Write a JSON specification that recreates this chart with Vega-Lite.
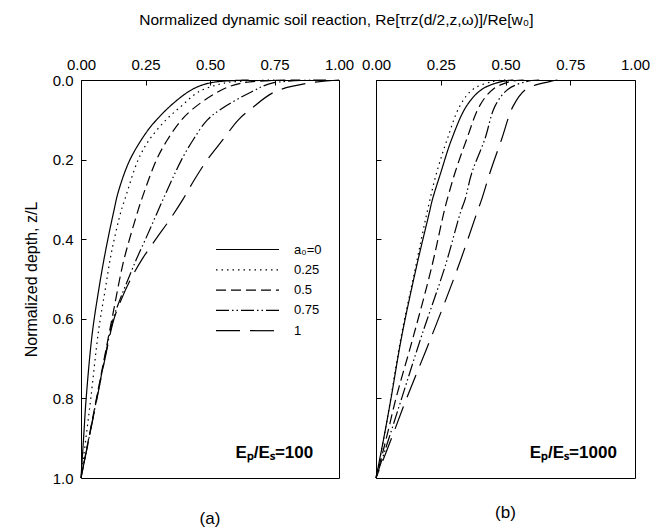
{
  "$schema": "https://vega.github.io/schema/vega-lite/v6.json",
  "background": "white",
  "padding": {"left": 22, "top": 13, "right": 5, "bottom": 2},
  "title": {"text": "Normalized dynamic soil reaction, Re[τrz(d/2,z,ω)]/Re[w₀]", "fontSize": 15.5, "font": "Liberation Sans", "fontWeight": "normal", "anchor": "middle", "offset": 28, "color": "black"},
  "config": {
    "font": "Liberation Sans",
    "view": {"stroke": "black", "strokeWidth": 1},
    "axis": {"domain": false, "grid": false, "tickSize": -5, "tickColor": "black", "tickWidth": 1, "labelColor": "black", "labelFontSize": 15, "labelFont": "Liberation Sans", "labelPadding": 13, "labelFlush": false, "labelOverlap": false, "titleFontSize": 16, "titleFont": "Liberation Sans", "titleFontWeight": "normal", "titleColor": "black", "titlePadding": 13}
  },
  "spacing": 37,
  "bounds": "flush",
  "datasets": {
    "a": [
      {"a0": "a₀=0", "z": 0, "v": 0.65}, {"a0": "a₀=0", "z": 0.005, "v": 0.52}, {"a0": "a₀=0", "z": 0.015, "v": 0.46}, {"a0": "a₀=0", "z": 0.03, "v": 0.415}, {"a0": "a₀=0", "z": 0.063, "v": 0.35}, {"a0": "a₀=0", "z": 0.1, "v": 0.293}, {"a0": "a₀=0", "z": 0.13, "v": 0.255}, {"a0": "a₀=0", "z": 0.2, "v": 0.19}, {"a0": "a₀=0", "z": 0.28, "v": 0.145}, {"a0": "a₀=0", "z": 0.33, "v": 0.127}, {"a0": "a₀=0", "z": 0.43, "v": 0.095}, {"a0": "a₀=0", "z": 0.53, "v": 0.068}, {"a0": "a₀=0", "z": 0.64, "v": 0.043}, {"a0": "a₀=0", "z": 0.8, "v": 0.02}, {"a0": "a₀=0", "z": 0.9, "v": 0.01}, {"a0": "a₀=0", "z": 1, "v": 0},
      {"a0": "0.25", "z": 0, "v": 0.75}, {"a0": "0.25", "z": 0.005, "v": 0.58}, {"a0": "0.25", "z": 0.01, "v": 0.54}, {"a0": "0.25", "z": 0.03, "v": 0.455}, {"a0": "0.25", "z": 0.065, "v": 0.39}, {"a0": "0.25", "z": 0.1, "v": 0.33}, {"a0": "0.25", "z": 0.15, "v": 0.265}, {"a0": "0.25", "z": 0.2, "v": 0.222}, {"a0": "0.25", "z": 0.3, "v": 0.17}, {"a0": "0.25", "z": 0.33, "v": 0.155}, {"a0": "0.25", "z": 0.43, "v": 0.119}, {"a0": "0.25", "z": 0.53, "v": 0.093}, {"a0": "0.25", "z": 0.63, "v": 0.068}, {"a0": "0.25", "z": 0.8, "v": 0.038}, {"a0": "0.25", "z": 0.9, "v": 0.019}, {"a0": "0.25", "z": 1, "v": 0},
      {"a0": "0.5", "z": 0, "v": 0.85}, {"a0": "0.5", "z": 0.008, "v": 0.62}, {"a0": "0.5", "z": 0.03, "v": 0.53}, {"a0": "0.5", "z": 0.072, "v": 0.435}, {"a0": "0.5", "z": 0.1, "v": 0.39}, {"a0": "0.5", "z": 0.15, "v": 0.335}, {"a0": "0.5", "z": 0.2, "v": 0.293}, {"a0": "0.5", "z": 0.3, "v": 0.235}, {"a0": "0.5", "z": 0.33, "v": 0.22}, {"a0": "0.5", "z": 0.4, "v": 0.188}, {"a0": "0.5", "z": 0.45, "v": 0.167}, {"a0": "0.5", "z": 0.5, "v": 0.15}, {"a0": "0.5", "z": 0.55, "v": 0.135}, {"a0": "0.5", "z": 0.6, "v": 0.12}, {"a0": "0.5", "z": 0.7, "v": 0.09}, {"a0": "0.5", "z": 0.8, "v": 0.06}, {"a0": "0.5", "z": 0.9, "v": 0.03}, {"a0": "0.5", "z": 1, "v": 0},
      {"a0": "0.75", "z": 0, "v": 0.95}, {"a0": "0.75", "z": 0.008, "v": 0.74}, {"a0": "0.75", "z": 0.03, "v": 0.66}, {"a0": "0.75", "z": 0.072, "v": 0.545}, {"a0": "0.75", "z": 0.1, "v": 0.49}, {"a0": "0.75", "z": 0.15, "v": 0.435}, {"a0": "0.75", "z": 0.2, "v": 0.39}, {"a0": "0.75", "z": 0.25, "v": 0.353}, {"a0": "0.75", "z": 0.3, "v": 0.318}, {"a0": "0.75", "z": 0.35, "v": 0.284}, {"a0": "0.75", "z": 0.4, "v": 0.25}, {"a0": "0.75", "z": 0.45, "v": 0.215}, {"a0": "0.75", "z": 0.5, "v": 0.183}, {"a0": "0.75", "z": 0.55, "v": 0.152}, {"a0": "0.75", "z": 0.6, "v": 0.125}, {"a0": "0.75", "z": 0.7, "v": 0.092}, {"a0": "0.75", "z": 0.8, "v": 0.061}, {"a0": "0.75", "z": 0.9, "v": 0.031}, {"a0": "0.75", "z": 1, "v": 0},
      {"a0": "1", "z": 0, "v": 1.0}, {"a0": "1", "z": 0.008, "v": 0.88}, {"a0": "1", "z": 0.03, "v": 0.75}, {"a0": "1", "z": 0.072, "v": 0.66}, {"a0": "1", "z": 0.1, "v": 0.61}, {"a0": "1", "z": 0.15, "v": 0.55}, {"a0": "1", "z": 0.2, "v": 0.49}, {"a0": "1", "z": 0.25, "v": 0.44}, {"a0": "1", "z": 0.3, "v": 0.395}, {"a0": "1", "z": 0.35, "v": 0.345}, {"a0": "1", "z": 0.4, "v": 0.29}, {"a0": "1", "z": 0.45, "v": 0.237}, {"a0": "1", "z": 0.5, "v": 0.193}, {"a0": "1", "z": 0.55, "v": 0.157}, {"a0": "1", "z": 0.6, "v": 0.128}, {"a0": "1", "z": 0.7, "v": 0.093}, {"a0": "1", "z": 0.8, "v": 0.062}, {"a0": "1", "z": 0.9, "v": 0.031}, {"a0": "1", "z": 1, "v": 0}
    ],
    "b": [
      {"a0": "a₀=0", "z": 0, "v": 0.53}, {"a0": "a₀=0", "z": 0.004, "v": 0.485}, {"a0": "a₀=0", "z": 0.023, "v": 0.41}, {"a0": "a₀=0", "z": 0.065, "v": 0.35}, {"a0": "a₀=0", "z": 0.149, "v": 0.292}, {"a0": "a₀=0", "z": 0.233, "v": 0.25}, {"a0": "a₀=0", "z": 0.3, "v": 0.218}, {"a0": "a₀=0", "z": 0.333, "v": 0.206}, {"a0": "a₀=0", "z": 0.47, "v": 0.156}, {"a0": "a₀=0", "z": 0.645, "v": 0.099}, {"a0": "a₀=0", "z": 0.8, "v": 0.058}, {"a0": "a₀=0", "z": 0.9, "v": 0.03}, {"a0": "a₀=0", "z": 1, "v": 0},
      {"a0": "0.25", "z": 0, "v": 0.5}, {"a0": "0.25", "z": 0.004, "v": 0.45}, {"a0": "0.25", "z": 0.023, "v": 0.375}, {"a0": "0.25", "z": 0.065, "v": 0.324}, {"a0": "0.25", "z": 0.149, "v": 0.275}, {"a0": "0.25", "z": 0.233, "v": 0.234}, {"a0": "0.25", "z": 0.333, "v": 0.197}, {"a0": "0.25", "z": 0.47, "v": 0.153}, {"a0": "0.25", "z": 0.645, "v": 0.097}, {"a0": "0.25", "z": 0.8, "v": 0.057}, {"a0": "0.25", "z": 0.9, "v": 0.03}, {"a0": "0.25", "z": 1, "v": 0},
      {"a0": "0.5", "z": 0, "v": 0.57}, {"a0": "0.5", "z": 0.004, "v": 0.517}, {"a0": "0.5", "z": 0.023, "v": 0.452}, {"a0": "0.5", "z": 0.065, "v": 0.4}, {"a0": "0.5", "z": 0.149, "v": 0.35}, {"a0": "0.5", "z": 0.233, "v": 0.305}, {"a0": "0.5", "z": 0.3, "v": 0.275}, {"a0": "0.5", "z": 0.333, "v": 0.262}, {"a0": "0.5", "z": 0.47, "v": 0.215}, {"a0": "0.5", "z": 0.645, "v": 0.144}, {"a0": "0.5", "z": 0.8, "v": 0.077}, {"a0": "0.5", "z": 0.9, "v": 0.04}, {"a0": "0.5", "z": 1, "v": 0},
      {"a0": "0.75", "z": 0, "v": 0.63}, {"a0": "0.75", "z": 0.004, "v": 0.58}, {"a0": "0.75", "z": 0.023, "v": 0.51}, {"a0": "0.75", "z": 0.065, "v": 0.46}, {"a0": "0.75", "z": 0.149, "v": 0.42}, {"a0": "0.75", "z": 0.233, "v": 0.37}, {"a0": "0.75", "z": 0.3, "v": 0.344}, {"a0": "0.75", "z": 0.333, "v": 0.326}, {"a0": "0.75", "z": 0.47, "v": 0.266}, {"a0": "0.75", "z": 0.645, "v": 0.175}, {"a0": "0.75", "z": 0.8, "v": 0.099}, {"a0": "0.75", "z": 0.9, "v": 0.05}, {"a0": "0.75", "z": 1, "v": 0},
      {"a0": "1", "z": 0, "v": 0.7}, {"a0": "1", "z": 0.004, "v": 0.67}, {"a0": "1", "z": 0.023, "v": 0.58}, {"a0": "1", "z": 0.065, "v": 0.53}, {"a0": "1", "z": 0.149, "v": 0.485}, {"a0": "1", "z": 0.233, "v": 0.44}, {"a0": "1", "z": 0.3, "v": 0.408}, {"a0": "1", "z": 0.333, "v": 0.39}, {"a0": "1", "z": 0.47, "v": 0.317}, {"a0": "1", "z": 0.645, "v": 0.214}, {"a0": "1", "z": 0.8, "v": 0.118}, {"a0": "1", "z": 0.9, "v": 0.06}, {"a0": "1", "z": 1, "v": 0}
    ]
  },
  "hconcat": [
    {
      "width": 258, "height": 398,
      "title": {"text": "(a)", "orient": "bottom", "fontSize": 17, "fontWeight": "normal", "offset": 25, "color": "black"},
      "layer": [
        {
          "data": {"name": "a"},
          "mark": {"type": "line", "strokeWidth": 1.2, "color": "black", "interpolate": "catmull-rom"},
          "encoding": {
            "x": {"field": "v", "type": "quantitative", "scale": {"domain": [0, 1]}, "axis": {"orient": "top", "values": [0, 0.25, 0.5, 0.75, 1], "format": ".2f", "title": null}},
            "y": {"field": "z", "type": "quantitative", "scale": {"domain": [0, 1], "reverse": true}, "axis": {"values": [0, 0.2, 0.4, 0.6, 0.8, 1], "format": ".1f", "title": "Normalized depth,  z/L"}},
            "strokeDash": {"field": "a0", "type": "nominal", "scale": {"domain": ["a₀=0", "0.25", "0.5", "0.75", "1"], "range": [[1, 0], [1.5, 4], [10, 5], [13, 3, 1.5, 3, 1.5, 3], [24, 10]]},
              "legend": {"orient": "none", "legendX": 158, "legendY": 161, "title": null, "padding": 0, "symbolType": "M-4,0H4", "symbolSize": 248, "symbolStrokeWidth": 1.2, "symbolStrokeColor": "black", "symbolFillColor": "transparent", "labelFontSize": 13, "labelColor": "black", "labelOffset": 38, "rowPadding": 4.3}},
            "order": {"field": "z"}
          }
        },
        {
          "data": {"values": [{}]},
          "mark": {"type": "text", "align": "right", "baseline": "alphabetic", "fontWeight": "bold", "fontSize": 17, "color": "black"},
          "encoding": {"x": {"datum": 0.9, "type": "quantitative"}, "y": {"datum": 0.95, "type": "quantitative"}, "text": {"value": "Eₚ/Eₛ=100"}}
        }
      ]
    },
    {
      "width": 259, "height": 398,
      "title": {"text": "(b)", "orient": "bottom", "fontSize": 17, "fontWeight": "normal", "offset": 25, "color": "black"},
      "layer": [
        {
          "data": {"name": "b"},
          "mark": {"type": "line", "strokeWidth": 1.2, "color": "black", "interpolate": "catmull-rom"},
          "encoding": {
            "x": {"field": "v", "type": "quantitative", "scale": {"domain": [0, 1]}, "axis": {"orient": "top", "values": [0, 0.25, 0.5, 0.75, 1], "format": ".2f", "title": null}},
            "y": {"field": "z", "type": "quantitative", "scale": {"domain": [0, 1], "reverse": true}, "axis": {"values": [0, 0.2, 0.4, 0.6, 0.8, 1], "labels": false, "title": null}},
            "strokeDash": {"field": "a0", "type": "nominal", "scale": {"domain": ["a₀=0", "0.25", "0.5", "0.75", "1"], "range": [[1, 0], [1.5, 4], [10, 5], [13, 3, 1.5, 3, 1.5, 3], [24, 10]]}, "legend": null},
            "order": {"field": "z"}
          }
        },
        {
          "data": {"values": [{}]},
          "mark": {"type": "text", "align": "right", "baseline": "alphabetic", "fontWeight": "bold", "fontSize": 17, "color": "black"},
          "encoding": {"x": {"datum": 0.93, "type": "quantitative"}, "y": {"datum": 0.95, "type": "quantitative"}, "text": {"value": "Eₚ/Eₛ=1000"}}
        }
      ]
    }
  ],
  "resolve": {"scale": {"strokeDash": "independent"}, "legend": {"strokeDash": "independent"}}
}
